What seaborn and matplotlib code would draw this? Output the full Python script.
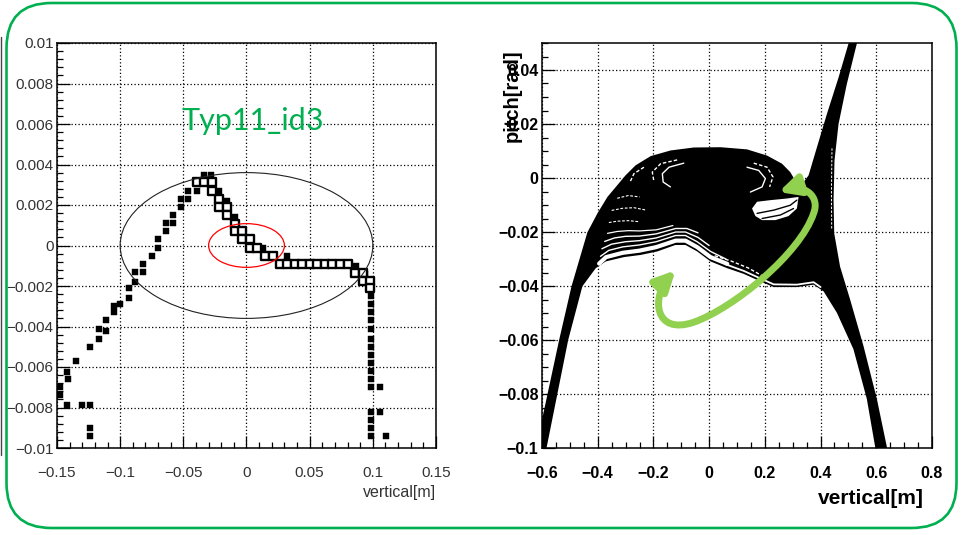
import numpy as np
import pandas as pd
import matplotlib
matplotlib.use("Agg")
import matplotlib.pyplot as plt
import seaborn as sns
from matplotlib.patches import Ellipse, FancyBboxPatch, FancyArrowPatch
from matplotlib.path import Path
from matplotlib.transforms import IdentityTransform
from matplotlib.ticker import FixedLocator, AutoMinorLocator
from matplotlib.lines import Line2D

# ---------------- left panel data ----------------
filled_x = [-0.1476, -0.1476, -0.142, -0.141, -0.142, -0.1353, -0.130, -0.1237, -0.1237, -0.1237,
            -0.124, -0.117, -0.117, -0.111, -0.111, -0.105, -0.105, -0.100, -0.093, -0.093,
            -0.088, -0.088, -0.082, -0.082, -0.075, -0.070, -0.070, -0.064, -0.064, -0.058,
            -0.058, -0.052, -0.052, -0.046, -0.046, -0.039, -0.039, -0.034, -0.028,
            -0.0215, -0.0155, -0.0090, 0.0130, 0.0320, 0.0870, 0.0935, 0.0985,
            0.0985, 0.0985, 0.0985, 0.0985, 0.0985, 0.0985, 0.0985, 0.0985, 0.0985, 0.0985,
            0.0985, 0.0985, 0.0985, 0.0985, 0.0985, 0.0985, 0.1053, 0.1053, 0.1105]
filled_y = [-0.0070, -0.0074, -0.00624, -0.0066, -0.0079, -0.0057, -0.0079, -0.0079, -0.0090, -0.0094,
            -0.0050, -0.0041, -0.0046, -0.0037, -0.0042, -0.0030, -0.0033, -0.0029, -0.0021, -0.0026,
            -0.0013, -0.0018, -0.0009, -0.0013, -0.0005, 0.0003, -0.0001, 0.0011, 0.0007, 0.0015,
            0.0011, 0.0023, 0.0019, 0.0027, 0.0023, 0.0031, 0.0027, 0.0035, 0.0035,
            0.0027, 0.0022, 0.0014, -0.0001, -0.0005, -0.0010, -0.0014, -0.0018,
            -0.0025, -0.0029, -0.0033, -0.0037, -0.0041, -0.0046, -0.0050, -0.0054, -0.0058, -0.0062,
            -0.0066, -0.0070, -0.0082, -0.0086, -0.0090, -0.0094, -0.0070, -0.0082, -0.0094]

open_x = [-0.0395, -0.0337, -0.0276, -0.0276, -0.0216, -0.0216, -0.0158, -0.0158, -0.0092, -0.0092,
          -0.0032, -0.0032, 0.0026, 0.0026, 0.0084, 0.0145, 0.0210, 0.0263, 0.032, 0.038, 0.044,
          0.050, 0.056, 0.062, 0.068, 0.074, 0.080, 0.0855, 0.0920, 0.0920, 0.0974, 0.0974]
open_y = [0.00312, 0.00312, 0.00312, 0.00268, 0.0023, 0.0019, 0.0019, 0.00153, 0.00108, 0.0007,
          0.0007, 0.0003, 0.0003, -0.0001, -0.0001, -0.0005, -0.0005, -0.0009, -0.0009, -0.0009, -0.0009,
          -0.0009, -0.0009, -0.0009, -0.0009, -0.0009, -0.0009, -0.00135, -0.00135, -0.00176, -0.00176, -0.0021]

ell_big = (0.0, 0.0, 0.200, 0.0072)     # centre x, centre y, width, height
ell_small = (0.0, 0.0, 0.060, 0.00216)

left_xticks = [-0.15, -0.1, -0.05, 0.0, 0.05, 0.1, 0.15]
left_xlabels = ["\u22120.15", "\u22120.1", "\u22120.05", "0", "0.05", "0.1", "0.15"]
left_yticks = [-0.01, -0.008, -0.006, -0.004, -0.002, 0.0, 0.002, 0.004, 0.006, 0.008, 0.01]
left_ylabels = ["\u22120.01", "\u22120.008", "\u22120.006", "\u22120.004", "\u22120.002", "0",
                "0.002", "0.004", "0.006", "0.008", "0.01"]

# ---------------- right panel data ----------------
body_x = [-0.640, -0.598, -0.5385, -0.494, -0.437, -0.401, -0.365, -0.330, -0.300, -0.264,
          -0.210, -0.1385, -0.055, 0.041, 0.136, 0.208, 0.2615, 0.291, 0.309, 0.327,
          0.357, 0.387, 0.4227, 0.4645, 0.500, 0.518, 0.554, 0.530, 0.494, 0.4645,
          0.450, 0.4466, 0.449, 0.470, 0.506, 0.554, 0.602, 0.638, 0.656, 0.614,
          0.596, 0.566, 0.518, 0.4585, 0.411, 0.375, 0.315, 0.232, 0.184, 0.124,
          0.0645, 0.005, -0.043, -0.085, -0.121, -0.186, -0.246, -0.306, -0.371, -0.407,
          -0.455, -0.506, -0.583, -0.598]
body_y = [-0.1064, -0.0886, -0.0600, -0.0401, -0.0201, -0.0131, -0.0070, -0.0027, 0.0010, 0.0047,
          0.0081, 0.0102, 0.0113, 0.0114, 0.0106, 0.0083, 0.0053, 0.0022, -0.0009, -0.0033,
          0.0010, 0.0114, 0.0237, 0.0372, 0.0497, 0.058, 0.058, 0.0497, 0.0347, 0.0200,
          0.0065, -0.0082, -0.0205, -0.0328, -0.0450, -0.0622, -0.0818, -0.0996, -0.1088, -0.1088,
          -0.0996, -0.0818, -0.0634, -0.0499, -0.0420, -0.0395, -0.0404, -0.0404, -0.0383, -0.0355,
          -0.0334, -0.0309, -0.0272, -0.0248, -0.0248, -0.0272, -0.0285, -0.0293, -0.0309, -0.0334,
          -0.0401, -0.0600, -0.0996, -0.1088]

# white gaps between the bundled trajectories: (x, y, width, dashed)
gap_lines = {
    "gA_left": ([-0.395, -0.37, -0.31, -0.25, -0.19, -0.12, -0.085, -0.043, 0.005, 0.065],
                [-0.0317, -0.0293, -0.0277, -0.0269, -0.0256, -0.0232, -0.0232, -0.0256, -0.0293, -0.0318], 3.0, False),
    "gA_right": ([0.06, 0.124, 0.184, 0.232, 0.315, 0.375, 0.40],
                 [-0.0320, -0.0344, -0.0372, -0.0394, -0.0395, -0.0386, -0.0404], 1.3, False),
    "gB": ([-0.39, -0.36, -0.31, -0.25, -0.19, -0.12, -0.085, -0.043, 0.005, 0.06],
           [-0.0290, -0.0268, -0.0255, -0.0248, -0.0236, -0.0213, -0.0213, -0.0236, -0.0272, -0.0300], 1.0, False),
    "gC": ([-0.385, -0.35, -0.30, -0.25, -0.19, -0.12, -0.085, -0.04, 0.0],
           [-0.0262, -0.0245, -0.0236, -0.0232, -0.0222, -0.0200, -0.0200, -0.0220, -0.0250], 1.0, False),
    "gD": ([-0.375, -0.34, -0.30, -0.25, -0.19, -0.12, -0.08, -0.04],
           [-0.0235, -0.0222, -0.0216, -0.0215, -0.0207, -0.0187, -0.0187, -0.0203], 1.0, False),
    "gE": ([-0.365, -0.33, -0.29, -0.25, -0.19, -0.13],
           [-0.0205, -0.0198, -0.0195, -0.0196, -0.0192, -0.0176], 0.9, False),
    "gF": ([-0.36, -0.33, -0.29, -0.25], [-0.0165, -0.0160, -0.0158, -0.0162], 0.8, True),
    "gG": ([-0.35, -0.31, -0.27, -0.23], [-0.0120, -0.0112, -0.0110, -0.0118], 0.8, True),
    "gH": ([-0.33, -0.29, -0.25], [-0.0075, -0.0065, -0.0070], 0.8, True),
    "hatch": ([0.02, 0.08, 0.14, 0.19], [-0.0288, -0.0308, -0.0333, -0.0362], 1.0, True),
    "streak": ([0.441, 0.439, 0.440], [0.0110, -0.0050, -0.0190], 0.7, True),
    "arcL1": ([-0.091, -0.144, -0.168, -0.165, -0.139], [0.0055, 0.0040, 0.0016, -0.0015, -0.0033], 1.0, False),
    "arcL2": ([-0.115, -0.174, -0.204, -0.198], [0.0067, 0.0053, 0.0022, -0.0015], 1.0, True),
    "arcL3": ([-0.234, -0.270, -0.284], [0.0040, 0.0016, -0.0015], 1.0, True),
    "arcR1": ([0.136, 0.178, 0.202, 0.190, 0.148], [0.0040, 0.0028, -0.0002, -0.0033, -0.0052], 1.0, False),
    "arcR2": ([0.160, 0.208, 0.229, 0.217], [0.0055, 0.0040, 0.0004, -0.0033], 1.0, True),
}

hole_x = [0.154, 0.172, 0.220, 0.279, 0.321, 0.315, 0.285, 0.238, 0.190, 0.166]
hole_y = [-0.0113, -0.0088, -0.0082, -0.0076, -0.0070, -0.0113, -0.0141, -0.0156, -0.0156, -0.0141]
hole_line1_x = [0.172, 0.232, 0.291, 0.315]
hole_line1_y = [-0.0131, -0.0119, -0.0101, -0.0082]
hole_line2_x = [0.190, 0.256, 0.303]
hole_line2_y = [-0.0150, -0.0137, -0.0113]

arrow_x = [-0.1206, -0.2101, -0.1982, -0.0549, 0.0884, 0.3272, 0.3749, 0.3988, 0.3451, 0.2496]
arrow_y = [-0.0342, -0.0438, -0.0585, -0.0534, -0.0482, -0.0279, -0.0131, -0.0070, -0.0021, -0.0052]

right_xticks = [-0.6, -0.4, -0.2, 0.0, 0.2, 0.4, 0.6, 0.8]
right_xlabels = ["\u22120.6", "\u22120.4", "\u22120.2", "0", "0.2", "0.4", "0.6", "0.8"]
right_yticks = [-0.1, -0.08, -0.06, -0.04, -0.02, 0.0, 0.02, 0.04]
right_ylabels = ["\u22120.1", "\u22120.08", "\u22120.06", "\u22120.04", "\u22120.02", "0", "0.02", "0.04"]

# ---------------- styling ----------------
sns.set_theme(style="white")
plt.rcParams['font.family'] = ['Liberation Sans', 'DejaVu Sans']

W, H = 961, 535
fig = plt.figure(figsize=(W / 100, H / 100), dpi=100)
fig.patch.set_facecolor("white")

axL = fig.add_axes([57 / W, (H - 448) / H, 379 / W, 405 / H])
axR = fig.add_axes([542 / W, (H - 448) / H, 390 / W, 405 / H])

grid_kw = dict(color="black", linewidth=0.9, linestyle=(0, (1, 1.8)))


def style_axes(ax, xt, xl, yt, yl, xlim, ylim, nminx, nminy, bold, color, fs):
    ax.set_xlim(*xlim)
    ax.set_ylim(*ylim)
    ax.xaxis.set_major_locator(FixedLocator(xt))
    ax.yaxis.set_major_locator(FixedLocator(yt))
    ax.set_xticklabels(xl)
    ax.set_yticklabels(yl)
    ax.xaxis.set_minor_locator(AutoMinorLocator(nminx))
    ax.yaxis.set_minor_locator(AutoMinorLocator(nminy))
    ax.tick_params(which="both", direction="in", bottom=True, left=True, top=False, right=False,
                   color="black", width=0.9)
    ax.tick_params(which="major", length=9)
    ax.tick_params(which="minor", length=4.5)
    ax.tick_params(axis="x", which="major", pad=13)
    ax.tick_params(axis="y", which="major", pad=2.5)
    for lab in ax.get_xticklabels() + ax.get_yticklabels():
        lab.set_fontsize(fs)
        lab.set_color(color)
        if bold:
            lab.set_fontweight("bold")
    for s in ax.spines.values():
        s.set_visible(True)
        s.set_color("black")
        s.set_linewidth(1.1)
    ax.grid(True, which="major", **grid_kw)
    ax.set_axisbelow(True)
    ax.set_xlabel("")
    ax.set_ylabel("")


# ---------------- left panel ----------------
sns.scatterplot(x=filled_x, y=filled_y, marker="s", s=13, color="black", edgecolor="black",
                linewidth=0.3, ax=axL, zorder=3)
sns.scatterplot(x=open_x, y=open_y, marker="s", s=30, color="white", edgecolor="black",
                linewidth=1.7, ax=axL, zorder=4)
axL.add_patch(Ellipse((ell_big[0], ell_big[1]), ell_big[2], ell_big[3], fill=False,
                      edgecolor="#222222", linewidth=0.8, zorder=5))
axL.add_patch(Ellipse((ell_small[0], ell_small[1]), ell_small[2], ell_small[3], fill=False,
                      edgecolor="red", linewidth=0.9, zorder=5))
style_axes(axL, left_xticks, left_xlabels, left_yticks, left_ylabels,
           (-0.15, 0.15), (-0.01, 0.01), 5, 5, False, "#333333", 11)
fig.text(436 / W, 1 - 493 / H, "vertical[m]", ha="right", va="center", fontsize=11.5, color="#333333")

# ---------------- right panel ----------------
axR.fill(body_x, body_y, color="black", linewidth=0, zorder=2)
for name, (gx, gy, lw, dashed) in gap_lines.items():
    ls = (0, (2.5, 1.5)) if dashed else "-"
    sns.lineplot(x=gx, y=gy, sort=False, estimator=None, color="white", linewidth=lw,
                 linestyle=ls, ax=axR, zorder=3)
axR.fill(hole_x, hole_y, color="white", linewidth=0, zorder=3)
sns.lineplot(x=hole_line1_x, y=hole_line1_y, sort=False, estimator=None, color="black", linewidth=1.0, ax=axR, zorder=4)
sns.lineplot(x=hole_line2_x, y=hole_line2_y, sort=False, estimator=None, color="black", linewidth=1.0, ax=axR, zorder=4)

style_axes(axR, right_xticks, right_xlabels, right_yticks, right_ylabels,
           (-0.6, 0.8), (-0.1, 0.05), 4, 4, True, "black", 11.5)

codes = [Path.MOVETO] + [Path.CURVE4] * 9
arrow_path = Path(list(zip(arrow_x, arrow_y)), codes)
arrow = FancyArrowPatch(path=arrow_path, arrowstyle="<|-|>,head_length=1.2,head_width=0.6",
                        mutation_scale=10, linewidth=5.0, color="#92D050",
                        transform=axR.transData, zorder=10, shrinkA=0, shrinkB=0)
axR.add_patch(arrow)

fig.text(924 / W, 1 - 499 / H, "vertical[m]", ha="right", va="center", fontsize=15,
         fontweight="bold", color="black")
fig.text(512 / W, 1 - 49 / H, "pitch[rad]", ha="center", va="top", rotation=90, fontsize=14.5,
         fontweight="bold", color="black", zorder=20)

# ---------------- annotations ----------------
fig.text(182 / W, 1 - 130 / H, "Typ11_id3", ha="left", va="baseline", fontsize=22,
         family=["Lato", "DejaVu Sans"], color="#00B050")

border = FancyBboxPatch((6.5, 7), 950, 525, boxstyle="round,pad=0,rounding_size=45",
                        transform=IdentityTransform(), fill=False, edgecolor="#00B050",
                        linewidth=1.9)
fig.add_artist(border)
fig.add_artist(Line2D([1.2, 1.2], [H - 37, H - 455], transform=IdentityTransform(),
                      color="#444444", linewidth=1.0))

fig.savefig("out.png", dpi=100)
